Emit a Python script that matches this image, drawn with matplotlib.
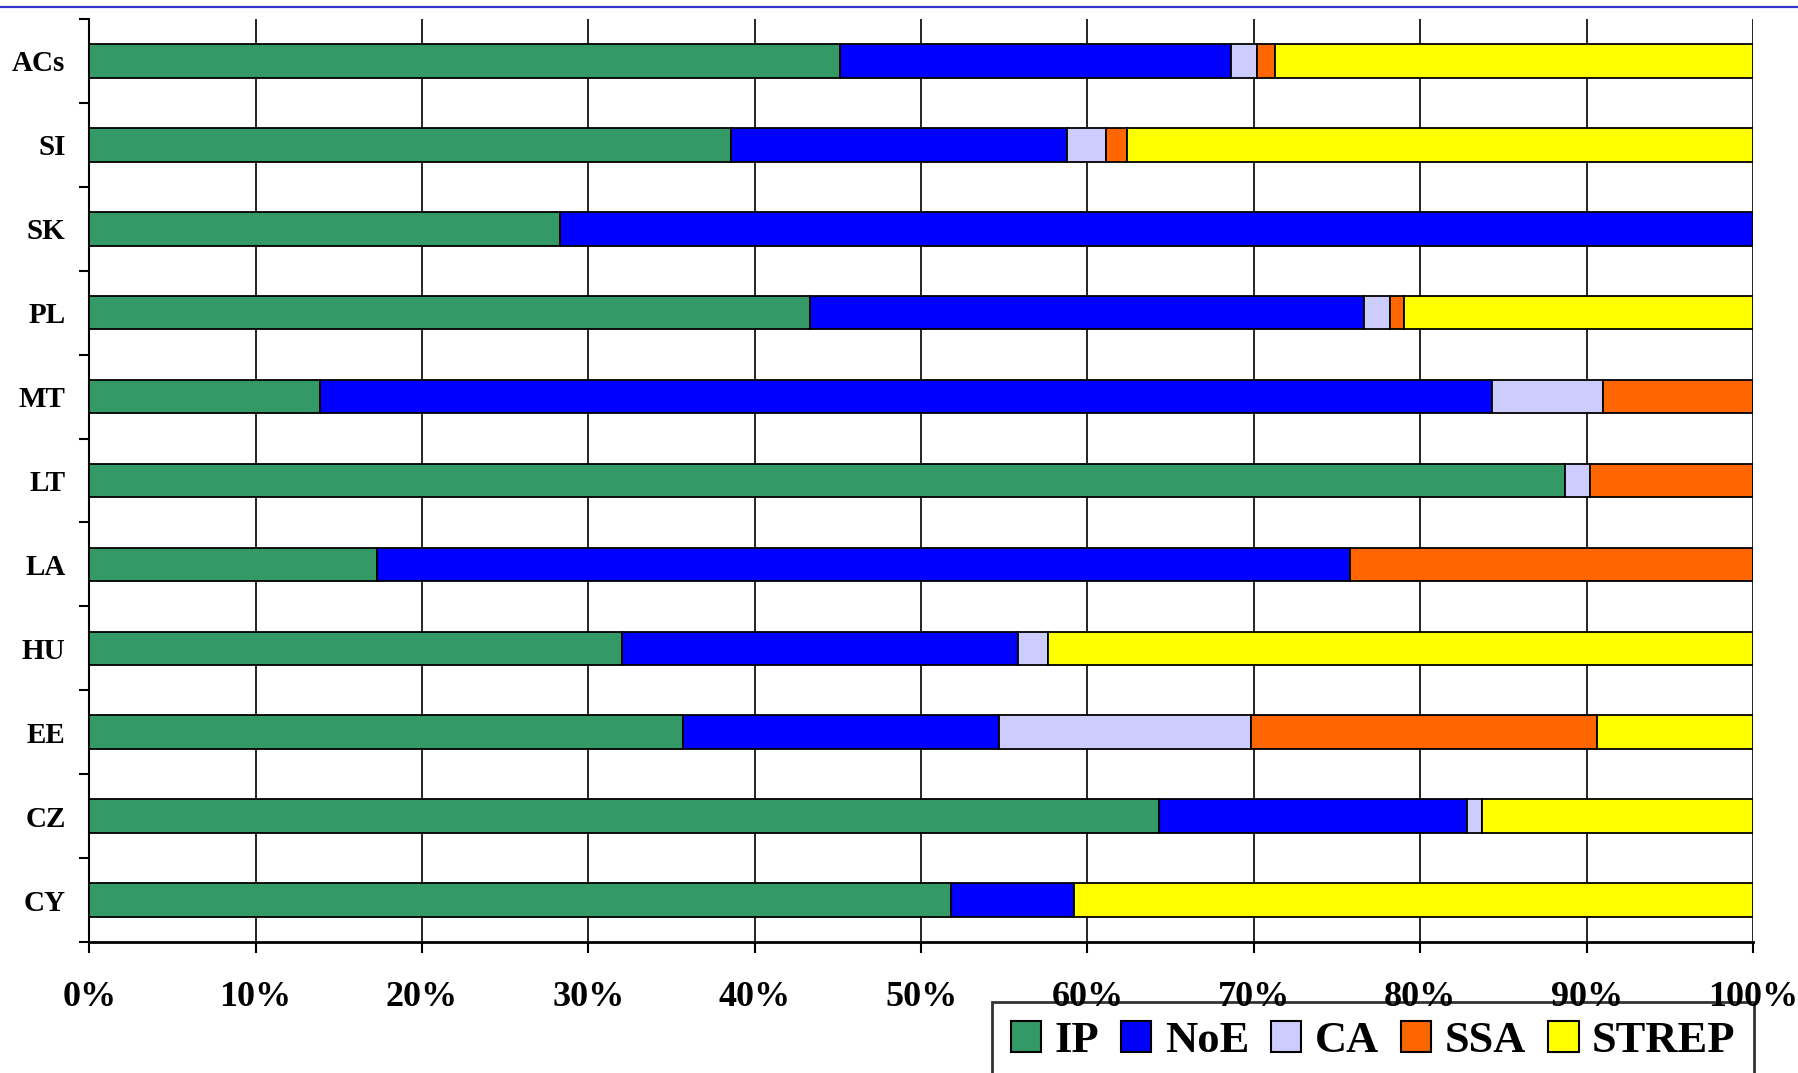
import numpy as np
import matplotlib.pyplot as plt
from matplotlib.patches import Patch
from matplotlib.lines import Line2D

# categories listed top to bottom
countries = ['ACs', 'SI', 'SK', 'PL', 'MT', 'LT', 'LA', 'HU', 'EE', 'CZ', 'CY']
series = ['IP', 'NoE', 'CA', 'SSA', 'STREP']
colors = ['#339966', '#0000FF', '#CCCCFF', '#FF6600', '#FFFF00']

# shares in percent
ip    = [45.1, 38.6, 28.3, 43.3, 13.9, 88.7, 17.3, 32.0, 35.7, 64.3, 51.8]
noe   = [23.5, 20.2, 71.7, 33.3, 70.4,  0.0, 58.5, 23.8, 19.0, 18.5,  7.4]
ca    = [ 1.6,  2.3,  0.0,  1.6,  6.7,  1.5,  0.0,  1.8, 15.1,  0.9,  0.0]
ssa   = [ 1.1,  1.3,  0.0,  0.8,  9.0,  9.8, 24.2,  0.0, 20.8,  0.0,  0.0]
strep = [28.7, 37.6,  0.0, 21.0,  0.0,  0.0,  0.0, 42.4,  9.4, 16.3, 40.8]

plt.rcParams['font.family'] = ['Liberation Serif', 'DejaVu Serif']
plt.rcParams['font.weight'] = 'bold'

fig = plt.figure(figsize=(17.99, 10.73), dpi=100)
ax = fig.add_axes([0.0496, 0.1221, 0.9248, 0.8602])

data = np.array([ip, noe, ca, ssa, strep])
y = np.arange(len(countries))
left = np.zeros(len(countries))
for vals, col in zip(data, colors):
    ax.barh(y, vals, left=left, height=0.4, color=col, edgecolor='black',
            linewidth=1.3, zorder=3)
    left += vals

ax.set_xlim(0, 100)
ax.set_ylim(len(countries) - 0.5, -0.5)

ax.set_xticks(np.arange(0, 101, 10))
ax.set_xticklabels([f'{v}%' for v in range(0, 101, 10)], fontsize=26,
                   fontweight='bold')
ax.tick_params(axis='x', direction='out', length=8, width=1.5, pad=20)
ax.xaxis.grid(True, color='black', linewidth=1.2, zorder=1)
ax.set_axisbelow(True)

ax.set_yticks(np.arange(-0.5, len(countries), 1.0))
ax.set_yticklabels([])
ax.set_yticks(y, minor=True)
ax.set_yticklabels(countries, minor=True, fontsize=21, fontweight='bold')
ax.tick_params(axis='y', which='major', direction='out', length=7, width=1.5)
ax.tick_params(axis='y', which='minor', length=0, pad=17)

ax.spines['top'].set_visible(False)
ax.spines['right'].set_visible(False)
ax.spines['left'].set_linewidth(1.5)
ax.spines['bottom'].set_linewidth(2)

# blue rule across the top
fig.add_artist(Line2D([0, 1], [1 - 7 / 1073, 1 - 7 / 1073], color='#3333CC',
                      linewidth=1.6))

handles = [Patch(facecolor=c, edgecolor='black', linewidth=1.5, label=s)
           for s, c in zip(series, colors)]
leg = fig.legend(handles=handles, ncol=5, loc='upper left',
                 bbox_to_anchor=(992 / 1799, 1 - 1002 / 1073),
                 borderaxespad=0, prop={'weight': 'bold', 'size': 32},
                 handlelength=0.68, handleheight=0.7, handletextpad=0.3,
                 columnspacing=0.5, borderpad=0.42, fancybox=False)
leg.get_frame().set_edgecolor('black')
leg.get_frame().set_linewidth(2)
leg.get_frame().set_facecolor('none')

fig.savefig('out.png', dpi=100)
